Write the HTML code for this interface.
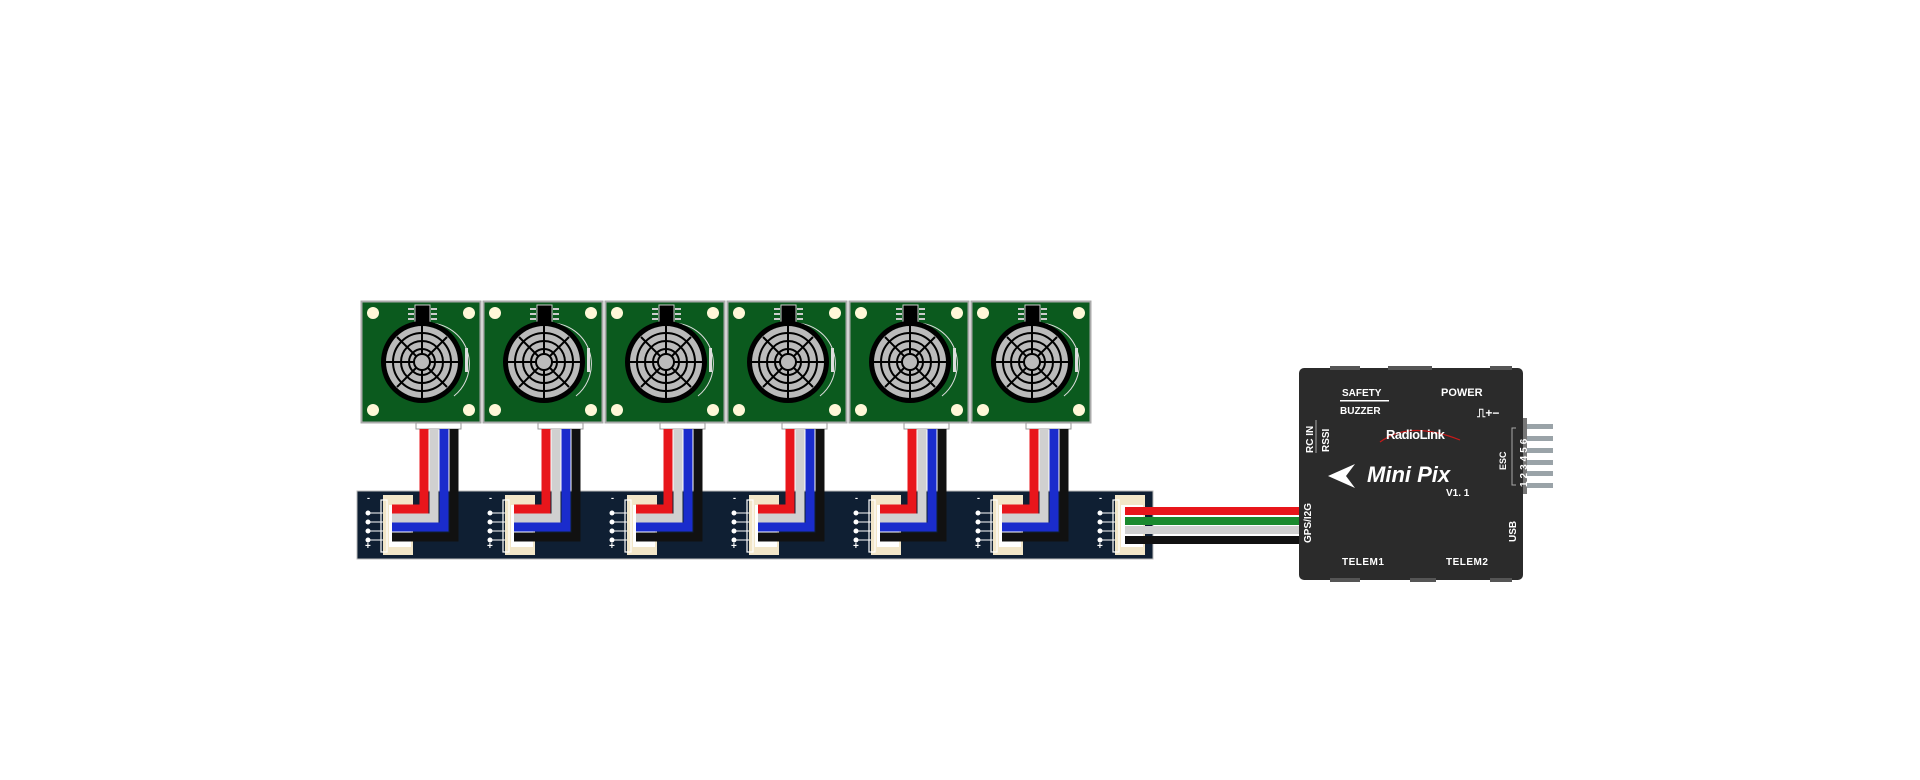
<!DOCTYPE html>
<html><head><meta charset="utf-8"><style>
html,body{margin:0;padding:0;background:#fff;width:1920px;height:780px;overflow:hidden}
svg{display:block}
text{font-family:"Liberation Sans",sans-serif;font-weight:bold;fill:#fff}
</style></head><body>
<svg width="1920" height="780" viewBox="0 0 1920 780" xmlns="http://www.w3.org/2000/svg">
<defs>
<g id="sensor">
  <rect x="0.5" y="0.5" width="119" height="121" fill="#0b5a1e" stroke="#aaa" stroke-width="2"/>
  <circle cx="12" cy="12" r="6" fill="#fff8d8"/>
  <circle cx="108" cy="12" r="6" fill="#fff8d8"/>
  <circle cx="12" cy="109" r="6" fill="#fff8d8"/>
  <circle cx="108" cy="109" r="6" fill="#fff8d8"/>
  <g fill="#ccc"><rect x="47" y="7" width="6" height="2"/><rect x="47" y="12" width="6" height="2"/><rect x="47" y="17" width="6" height="2"/><rect x="70" y="7" width="6" height="2"/><rect x="70" y="12" width="6" height="2"/><rect x="70" y="17" width="6" height="2"/></g>
  <rect x="54" y="4" width="15" height="22" fill="#000" stroke="#ccc" stroke-width="1"/>
  <path d="M68 22 A41 41 0 0 1 93 95" fill="none" stroke="#ddd" stroke-width="1"/>
  <rect x="104" y="47" width="3" height="24" fill="#ddd"/>
  <circle cx="61" cy="61" r="41" fill="#000"/>
  <circle cx="61" cy="61" r="36" fill="#bbb"/>
  <g fill="none" stroke="#000" stroke-width="2">
   <circle cx="61" cy="61" r="29"/><circle cx="61" cy="61" r="21"/><circle cx="61" cy="61" r="13"/>
   <line x1="25" y1="61" x2="97" y2="61"/><line x1="61" y1="25" x2="61" y2="97"/>
   <line x1="36" y1="36" x2="86" y2="86"/><line x1="86" y1="36" x2="36" y2="86"/>
  </g>
  <circle cx="61" cy="61" r="8" fill="#bbb" stroke="#000" stroke-width="2"/>
  <rect x="55" y="122" width="45" height="6" fill="#fff" stroke="#999" stroke-width="1"/>
</g>
<g id="port">
  <text x="10" y="10" font-size="9" fill="#fff">-</text>
  <text x="8" y="58" font-size="10" fill="#fff">+</text>
  <g fill="#fff"><circle cx="11" cy="22" r="2.5"/><circle cx="11" cy="31" r="2.5"/><circle cx="11" cy="40" r="2.5"/><circle cx="11" cy="49" r="2.5"/></g>
  <g stroke="#fff" stroke-width="1"><line x1="11" y1="22" x2="26" y2="22"/><line x1="11" y1="31" x2="26" y2="31"/><line x1="11" y1="40" x2="26" y2="40"/><line x1="11" y1="49" x2="26" y2="49"/></g>
  <rect x="26" y="4" width="30" height="60" fill="#f2e6c8"/>
  <rect x="24" y="9" width="6" height="52" fill="none" stroke="#fff" stroke-width="1.2"/>
  <rect x="32" y="14" width="22" height="42" fill="#fff"/>
</g>
<g id="wires">
  <path d="M65 -68 V18 H36" fill="none" stroke="#000" stroke-width="9"/>
  <path d="M55 -68 V8 H36" fill="none" stroke="#1a2ccc" stroke-width="9"/>
  <path d="M45 -68 V0 H36" fill="none" stroke="#ccc" stroke-width="9"/>
  <path d="M35 -68 V-9 H36" fill="none" stroke="#e8161b" stroke-width="9"/>
</g>
</defs>

<!-- bar -->
<rect x="357" y="491" width="796" height="68" fill="#0f1f33" stroke="#bbb" stroke-width="1"/>

<use href="#sensor" x="361" y="301"/>
<use href="#sensor" x="483" y="301"/>
<use href="#sensor" x="605" y="301"/>
<use href="#sensor" x="727" y="301"/>
<use href="#sensor" x="849" y="301"/>
<use href="#sensor" x="971" y="301"/>

<use href="#port" x="357" y="491"/>
<use href="#port" x="479" y="491"/>
<use href="#port" x="601" y="491"/>
<use href="#port" x="723" y="491"/>
<use href="#port" x="845" y="491"/>
<use href="#port" x="967" y="491"/>
<use href="#port" x="1089" y="491"/>

<!-- L wires: drawn as nested Ls -->
<g id="w1">
  <path d="M454 429 V537 H392" fill="none" stroke="#111" stroke-width="9"/>
  <path d="M444 429 V527 H392" fill="none" stroke="#1a2ccc" stroke-width="9"/>
  <path d="M434 429 V518 H392" fill="none" stroke="#d0d0d0" stroke-width="9"/>
  <path d="M424 429 V509 H392" fill="none" stroke="#e8161b" stroke-width="9"/>
</g>
<use href="#w1" x="122"/>
<use href="#w1" x="244"/>
<use href="#w1" x="366"/>
<use href="#w1" x="488"/>
<use href="#w1" x="610"/>

<!-- wires to Mini Pix -->
<g stroke-width="8">
<line x1="1125" y1="511" x2="1300" y2="511" stroke="#e8161b"/>
<line x1="1125" y1="521" x2="1300" y2="521" stroke="#1a8a2e"/>
<line x1="1125" y1="530" x2="1300" y2="530" stroke="#d0d0d0"/>
<line x1="1125" y1="540" x2="1300" y2="540" stroke="#111"/>
</g>

<!-- Mini Pix -->
<g fill="#9aa3a8">
<rect x="1523" y="424" width="30" height="5"/><rect x="1523" y="436" width="30" height="5"/><rect x="1523" y="448" width="30" height="5"/><rect x="1523" y="460" width="30" height="5"/><rect x="1523" y="471" width="30" height="5"/><rect x="1523" y="483" width="30" height="5"/>
</g>
<rect x="1519" y="418" width="8" height="76" fill="#777"/>
<rect x="1299" y="368" width="224" height="212" rx="5" fill="#2b2b2b"/>
<g fill="#555"><rect x="1330" y="366" width="30" height="4"/><rect x="1388" y="366" width="44" height="4"/><rect x="1490" y="366" width="22" height="4"/><rect x="1330" y="578" width="30" height="4"/><rect x="1410" y="578" width="26" height="4"/><rect x="1490" y="578" width="22" height="4"/></g>
<text x="1342" y="396" font-size="10">SAFETY</text>
<rect x="1340" y="400" width="49" height="1.5" fill="#fff"/>
<text x="1340" y="414" font-size="10">BUZZER</text>
<text x="1441" y="396" font-size="11">POWER</text>
<text x="1477" y="417" font-size="12">⎍+−</text>
<text font-size="10" transform="translate(1313,453) rotate(-90)">RC IN</text>
<line x1="1316" y1="420" x2="1316" y2="453" stroke="#aaa" stroke-width="1"/>
<text font-size="10" transform="translate(1329,452) rotate(-90)">RSSI</text>
<path d="M1380 442 Q1410 420 1460 440" fill="none" stroke="#c81a1a" stroke-width="1.2"/>
<text x="1386" y="439" font-size="13" letter-spacing="-0.5">RadioLink</text>
<path d="M1328 476 L1355 464 L1346 476 L1355 488 Z" fill="#fff"/>
<text x="1367" y="482" font-size="22" font-style="italic">Mini Pix</text>
<text x="1446" y="496" font-size="10">V1. 1</text>
<text font-size="9" transform="translate(1506,470) rotate(-90)">ESC</text>
<path d="M1516 428 H1512 V485 H1516" fill="none" stroke="#aaa" stroke-width="1"/>
<text font-size="10" transform="translate(1527,487) rotate(-90)" letter-spacing="3">123456</text>
<text font-size="10" transform="translate(1516,542) rotate(-90)">USB</text>
<text font-size="10" transform="translate(1311,543) rotate(-90)">GPS/I2G</text>
<text x="1342" y="565" font-size="10" letter-spacing="0.5">TELEM1</text>
<text x="1446" y="565" font-size="10" letter-spacing="0.5">TELEM2</text>
</svg>
</body></html>
